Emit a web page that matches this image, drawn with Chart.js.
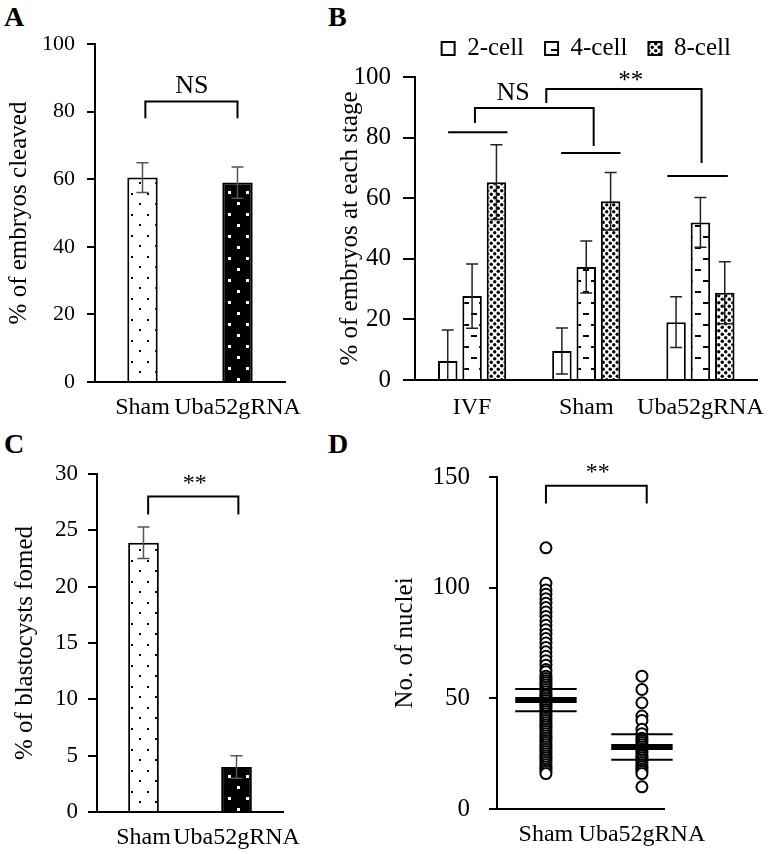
<!DOCTYPE html>
<html>
<head>
<meta charset="utf-8">
<script src="https://cdn.jsdelivr.net/npm/chart.js@4.4.1/dist/chart.umd.min.js"></script>
<style>
  body { margin: 0; background: #fff; width: 771px; height: 854px; position: relative; overflow: hidden; }
  canvas { position: absolute; }
  .panel { position: absolute; font: bold 28px "Liberation Serif", serif; color: #000; }
</style>
</head>
<body>
<div class="panel" style="left:4px;top:1px">A</div>
<div class="panel" style="left:328px;top:1px">B</div>
<div class="panel" style="left:4px;top:428px">C</div>
<div class="panel" style="left:328px;top:428px">D</div>
<canvas id="chartA" width="320" height="430" style="left:0;top:0"></canvas>
<canvas id="chartB" width="446" height="430" style="left:325px;top:0"></canvas>
<canvas id="chartC" width="320" height="424" style="left:0;top:430px"></canvas>
<canvas id="chartD" width="386" height="424" style="left:385px;top:430px"></canvas>
<script>
// data
const groups = ['Sham', 'Uba52gRNA'];
const cleaved = [60.5, 59];
const cleavedErr = [4.4, 4.6];

const stageGroups = ['IVF', 'Sham', 'Uba52gRNA'];
const stageNames = ['2-cell', '4-cell', '8-cell'];
const cell2 = [6.3, 9.6, 19.1];
const cell2Err = [10.2, 7.6, 8.4];
const cell4 = [27.7, 37.3, 52];
const cell4Err = [10.6, 8.6, 8.2];
const cell8 = [65.3, 59, 28.8];
const cell8Err = [12.3, 9.5, 10.2];

const blasto = [23.9, 4.0];
const blastoErr = [1.4, 1.0];

const nucleiSham = [118, 102, 99, 97, 95, 93, 91, 89, 87, 85, 83, 81, 79, 77, 75, 73, 71, 69, 67, 65,
  63, 62, 60, 59, 58, 57, 56, 55, 54, 53, 52, 51, 50, 49, 48, 47, 46, 45, 44, 43, 42, 41, 40, 39, 38,
  37, 36, 35, 34, 33, 32, 31, 30, 29, 28, 27, 26, 25, 24, 23, 22, 21, 20, 19, 18, 17, 16];
const nucleiUba = [60, 54, 48, 42, 40, 36, 34, 32, 31, 30, 29, 28, 27, 26, 25, 24, 23, 22, 21, 20, 19, 18, 17, 16, 10];
const nucleiMean = [49.2, 28];
const nucleiSd = [5, 5.8];

const FONT = '"Liberation Serif", "Times New Roman", serif';

// fill patterns
function pattern(bg, w, h, draw) {
  const c = document.createElement('canvas');
  c.width = w; c.height = h;
  const g = c.getContext('2d');
  g.fillStyle = bg; g.fillRect(0, 0, w, h);
  draw(g);
  return g.createPattern(c, 'repeat');
}
const dotsLight = pattern('#fff', 16, 21, g => {
  g.fillStyle = '#000'; g.fillRect(3, 4, 2, 2); g.fillRect(11, 14, 2, 2);
});
const dotsDark = pattern('#000', 18, 22, g => {
  g.fillStyle = '#fff'; g.fillRect(3, 4, 3, 3); g.fillRect(12, 15, 3, 3);
});
const dashes = pattern('#fff', 16, 22, g => {
  g.fillStyle = '#000'; g.fillRect(2, 5, 6, 2); g.fillRect(10, 16, 6, 2);
});
const denseDots = pattern('#fff', 7, 7, g => {
  g.fillStyle = '#000';
  g.beginPath(); g.arc(1.75, 1.75, 1.7, 0, Math.PI * 2); g.fill();
  g.beginPath(); g.arc(5.25, 5.25, 1.7, 0, Math.PI * 2); g.fill();
});

// error bars drawn through the y scale
const errorBars = {
  id: 'errorBars',
  afterDatasetsDraw(chart, args, opts) {
    const ctx = chart.ctx, y = chart.scales.y, area = chart.chartArea;
    ctx.save();
    ctx.beginPath();
    ctx.rect(area.left, area.top - 60, area.right - area.left, area.bottom - area.top + 60);
    ctx.clip();
    ctx.strokeStyle = opts.color;
    ctx.lineWidth = opts.width;
    chart.data.datasets.forEach((ds, i) => {
      if (!ds.errors) return;
      chart.getDatasetMeta(i).data.forEach((bar, j) => {
        const top = y.getPixelForValue(ds.data[j] + ds.errors[j]);
        const bot = y.getPixelForValue(ds.data[j] - ds.errors[j]);
        ctx.beginPath();
        ctx.moveTo(bar.x, top); ctx.lineTo(bar.x, bot);
        ctx.moveTo(bar.x - opts.cap, top); ctx.lineTo(bar.x + opts.cap, top);
        ctx.moveTo(bar.x - opts.cap, bot); ctx.lineTo(bar.x + opts.cap, bot);
        ctx.stroke();
      });
    });
    ctx.restore();
  }
};

// significance brackets and labels, in data units
const brackets = {
  id: 'brackets',
  afterDraw(chart, args, opts) {
    const ctx = chart.ctx, x = chart.scales.x, y = chart.scales.y;
    ctx.save();
    ctx.strokeStyle = '#000';
    ctx.lineWidth = 2;
    (opts.lines || []).forEach(pts => {
      ctx.beginPath();
      pts.forEach((p, k) => {
        const px = x.getPixelForValue(p[0]), py = y.getPixelForValue(p[1]);
        if (k === 0) ctx.moveTo(px, py); else ctx.lineTo(px, py);
      });
      ctx.stroke();
    });
    ctx.fillStyle = '#000';
    ctx.textAlign = 'center';
    ctx.textBaseline = 'middle';
    (opts.texts || []).forEach(t => {
      ctx.font = t.size + 'px ' + FONT;
      ctx.fillText(t.text, x.getPixelForValue(t.x), y.getPixelForValue(t.y));
    });
    ctx.restore();
  }
};

function yAxis(max, step, width, title, tickSize, tickLen, pad, titlePad) {
  return {
    min: 0, max: max,
    ticks: { stepSize: step, color: '#000', font: { family: FONT, size: tickSize }, padding: pad },
    grid: { drawOnChartArea: false, drawTicks: true, tickLength: tickLen, color: '#000', lineWidth: 2 },
    border: { color: '#000', width: 2 },
    title: { display: true, text: title, color: '#000', font: { family: FONT, size: 25 }, padding: { top: titlePad, bottom: 0 } },
    afterFit: s => { s.width = width; }
  };
}
function xAxis(height, pad) {
  return {
    grid: { display: false },
    border: { color: '#000', width: 2 },
    ticks: { color: '#000', font: { family: FONT, size: 24 }, padding: pad, maxRotation: 0, autoSkip: false },
    afterFit: s => { s.height = height; }
  };
}

const common = { responsive: false, animation: false, events: [] };

// A
new Chart(document.getElementById('chartA'), {
  type: 'bar',
  data: {
    labels: groups,
    datasets: [{
      data: cleaved, errors: cleavedErr,
      backgroundColor: [dotsLight, dotsDark], borderColor: '#000', borderWidth: 2,
      categoryPercentage: 1, barPercentage: 0.32
    }]
  },
  options: Object.assign({}, common, {
    layout: { padding: { top: 44, right: 35, left: 0, bottom: 0 } },
    plugins: {
      legend: { display: false }, tooltip: { enabled: false },
      errorBars: { color: '#555', width: 1.5, cap: 6 },
      brackets: {
        lines: [[[0.03, 78], [0.03, 83], [1.0, 83], [1.0, 78]]],
        texts: [{ text: 'NS', x: 0.52, y: 87.5, size: 26 }]
      }
    },
    scales: { x: xAxis(48, 3), y: yAxis(100, 20, 95, '% of embryos cleaved', 22, 8, 12, 4) }
  }),
  plugins: [errorBars, brackets]
});

// B
new Chart(document.getElementById('chartB'), {
  type: 'bar',
  data: {
    labels: stageGroups,
    datasets: [
      { label: stageNames[0], data: cell2, errors: cell2Err, backgroundColor: '#fff' },
      { label: stageNames[1], data: cell4, errors: cell4Err, backgroundColor: dashes },
      { label: stageNames[2], data: cell8, errors: cell8Err, backgroundColor: denseDots }
    ].map(d => Object.assign(d, { borderColor: '#000', borderWidth: 2, categoryPercentage: 0.64, barPercentage: 0.8 }))
  },
  options: Object.assign({}, common, {
    layout: { padding: { top: 15, right: 13, left: 0, bottom: 0 } },
    plugins: {
      legend: {
        position: 'top', fullSize: false,
        labels: { color: '#000', font: { family: FONT, size: 25 }, boxWidth: 13, boxHeight: 13, padding: 21 }
      },
      // empty spacer between legend and plot area
      title: { display: true, text: '', weight: 500, padding: 0, font: { size: 5 } },
      tooltip: { enabled: false },
      errorBars: { color: '#222', width: 1.5, cap: 6 },
      brackets: {
        lines: [
          [[-0.21, 81.8], [0.31, 81.8]],
          [[0.78, 74.9], [1.30, 74.9]],
          [[1.71, 67.3], [2.24, 67.3]],
          [[0.025, 84.8], [0.025, 89.8], [1.065, 89.8], [1.065, 77.2]],
          [[0.65, 91.4], [0.65, 96], [2.01, 96], [2.01, 71.6]]
        ],
        texts: [
          { text: 'NS', x: 0.36, y: 94.5, size: 26 },
          { text: '**', x: 1.39, y: 98.5, size: 25 }
        ]
      }
    },
    scales: { x: xAxis(50, 5), y: yAxis(100, 20, 90, '% of embryos at each stage', 25, 12, 12, 10) }
  }),
  plugins: [errorBars, brackets]
});

// C
new Chart(document.getElementById('chartC'), {
  type: 'bar',
  data: {
    labels: groups,
    datasets: [{
      data: blasto, errors: blastoErr,
      backgroundColor: [dotsLight, dotsDark], borderColor: '#000', borderWidth: 2,
      categoryPercentage: 1, barPercentage: 0.33
    }]
  },
  options: Object.assign({}, common, {
    layout: { padding: { top: 44, right: 37, left: 0, bottom: 0 } },
    plugins: {
      legend: { display: false }, tooltip: { enabled: false },
      errorBars: { color: '#555', width: 1.5, cap: 6 },
      brackets: {
        lines: [[[0.05, 26.4], [0.05, 28], [1.02, 28], [1.02, 26.4]]],
        texts: [{ text: '**', x: 0.55, y: 29.1, size: 24 }]
      }
    },
    scales: { x: xAxis(42, 3), y: yAxis(30, 5, 97, '% of blastocysts fomed', 23, 9, 10, 10) }
  }),
  plugins: [errorBars, brackets]
});

// D
const half = 0.32;
const statLines = [];
nucleiMean.forEach((m, i) => {
  const cx = i + 1;
  statLines.push({ data: [{ x: cx - half, y: m }, { x: cx + half, y: m }], borderWidth: 6 });
  statLines.push({ data: [{ x: cx - half, y: m + nucleiSd[i] }, { x: cx + half, y: m + nucleiSd[i] }], borderWidth: 2 });
  statLines.push({ data: [{ x: cx - half, y: m - nucleiSd[i] }, { x: cx + half, y: m - nucleiSd[i] }], borderWidth: 2 });
});
new Chart(document.getElementById('chartD'), {
  type: 'scatter',
  data: {
    datasets: statLines.map(d => Object.assign(d, {
      showLine: true, borderColor: '#000', pointRadius: 0, clip: false, order: 0
    })).concat([
      { data: nucleiSham.map(v => ({ x: 1, y: v })) },
      { data: nucleiUba.map(v => ({ x: 2, y: v })) }
    ].map(d => Object.assign(d, {
      pointRadius: 5.5, borderWidth: 2, borderColor: '#000', backgroundColor: '#fff', order: 1
    })))
  },
  options: Object.assign({}, common, {
    layout: { padding: { top: 47, right: 107, left: 0, bottom: 0 } },
    plugins: {
      legend: { display: false }, tooltip: { enabled: false },
      brackets: {
        lines: [[[1, 138], [1, 146], [2.05, 146], [2.05, 138]]],
        texts: [{ text: '**', x: 1.54, y: 152, size: 24 }]
      }
    },
    scales: {
      x: Object.assign(xAxis(45, 8), {
        type: 'linear', min: 0.49, max: 2.23,
        afterBuildTicks: s => { s.ticks = [{ value: 1 }, { value: 2 }]; },
        ticks: { color: '#000', font: { family: FONT, size: 24 }, padding: 3, maxRotation: 0, autoSkip: false,
          callback: v => groups[v - 1] }
      }),
      y: yAxis(150, 50, 112, 'No. of nuclei', 25, 8, 19, 5)
    }
  }),
  plugins: [brackets]
});
</script>
</body>
</html>
